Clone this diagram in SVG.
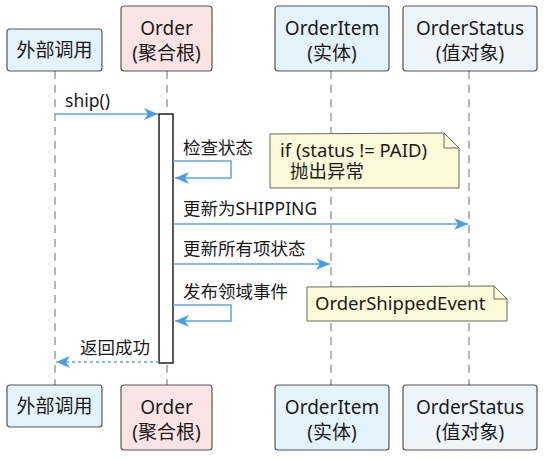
<svg xmlns="http://www.w3.org/2000/svg" width="544" height="459" viewBox="0 0 544 459">
<style>
text{font-family:"Noto Sans","Noto Sans CJK SC",sans-serif;fill:#1a1a1a}
.t{font-size:19px;text-anchor:middle}
.m{font-size:17.5px}
.n{font-size:18.5px}
.box{stroke:#555;stroke-width:1.2}
.life{stroke:#888;stroke-width:1.2;stroke-dasharray:8 6;fill:none}
.msg{stroke:#5aa5e6;stroke-width:1.5;fill:none}
.ret{stroke:#5aa5e6;stroke-width:1.3;stroke-dasharray:3 3;fill:none}
.note{fill:#fbfbd9;stroke:#666;stroke-width:1}
</style>
<defs>
<marker id="ah" markerWidth="16" markerHeight="12" refX="14" refY="6" orient="auto" markerUnits="userSpaceOnUse">
<path d="M0,0 L14,6 L0,12 L4,6 Z" fill="#4a9de6"/>
</marker>
</defs>
<g id="lifelines">
<line class="life" x1="55" y1="71" x2="55" y2="385"/>
<line class="life" x1="167" y1="71" x2="167" y2="385"/>
<line class="life" x1="331" y1="71" x2="331" y2="385"/>
<line class="life" x1="469" y1="71" x2="469" y2="385"/>
</g>
<g id="activation">
<rect x="159" y="114" width="14" height="249" fill="#fff" stroke="#222" stroke-width="1.5"/>
</g>
<g id="top-external">
<rect class="box" x="7" y="29" width="95" height="42" rx="3" fill="#e4f3fb"/>
<text class="t" x="54.5" y="57">外部调用</text>
</g>
<g id="top-order">
<rect class="box" x="121" y="6" width="91" height="65" rx="3" fill="#fde4e4"/>
<text class="t" x="166.5" y="35">Order</text>
<text class="t" x="166.5" y="60">(聚合根)</text>
</g>
<g id="top-orderitem">
<rect class="box" x="275" y="6" width="114" height="65" rx="3" fill="#e4f3fb"/>
<text class="t" x="332" y="35">OrderItem</text>
<text class="t" x="332" y="60">(实体)</text>
</g>
<g id="top-orderstatus">
<rect class="box" x="403" y="6" width="134" height="65" rx="3" fill="#eef5fa"/>
<text class="t" x="470" y="35">OrderStatus</text>
<text class="t" x="470" y="60">(值对象)</text>
</g>
<g id="bottom-external">
<rect class="box" x="7" y="385" width="95" height="42" rx="3" fill="#e4f3fb"/>
<text class="t" x="54.5" y="413">外部调用</text>
</g>
<g id="bottom-order">
<rect class="box" x="121" y="385" width="91" height="65" rx="3" fill="#fde4e4"/>
<text class="t" x="166.5" y="414">Order</text>
<text class="t" x="166.5" y="439">(聚合根)</text>
</g>
<g id="bottom-orderitem">
<rect class="box" x="275" y="385" width="114" height="65" rx="3" fill="#e4f3fb"/>
<text class="t" x="332" y="414">OrderItem</text>
<text class="t" x="332" y="439">(实体)</text>
</g>
<g id="bottom-orderstatus">
<rect class="box" x="403" y="385" width="134" height="65" rx="3" fill="#eef5fa"/>
<text class="t" x="470" y="414">OrderStatus</text>
<text class="t" x="470" y="439">(值对象)</text>
</g>
<g id="note-check">
<path class="note" d="M270,134 L444,133 L459,148 L459,188 L270,188 Z"/>
<path d="M444,133 L444,148 L459,148" fill="none" stroke="#666" stroke-width="1"/>
<text class="n" x="280" y="157">if (status != PAID)</text>
<text class="n" x="290" y="178">抛出异常</text>
</g>
<g id="note-event">
<path class="note" d="M307,287 L494,286 L507,299 L507,321 L307,321 Z"/>
<path d="M494,286 L494,299 L507,299" fill="none" stroke="#666" stroke-width="1"/>
<text class="n" x="315" y="310">OrderShippedEvent</text>
</g>
<g id="connectors">
<path class="msg" d="M55,114 L158,114" marker-end="url(#ah)"/>
<text class="m" x="65" y="107">ship()</text>
<path class="msg" d="M173,161 L231,161 L231,178 L175,178" marker-end="url(#ah)"/>
<text class="m" x="183" y="154">检查状态</text>
<path class="msg" d="M173,224 L468,224" marker-end="url(#ah)"/>
<text class="m" x="183" y="215">更新为SHIPPING</text>
<path class="msg" d="M173,264 L330,264" marker-end="url(#ah)"/>
<text class="m" x="183" y="255">更新所有项状态</text>
<path class="msg" d="M173,305 L231,305 L231,321 L175,321" marker-end="url(#ah)"/>
<text class="m" x="183" y="298">发布领域事件</text>
<path class="ret" d="M159,362 L56,362" marker-end="url(#ah)"/>
<text class="m" x="80" y="354">返回成功</text>
</g>
</svg>
